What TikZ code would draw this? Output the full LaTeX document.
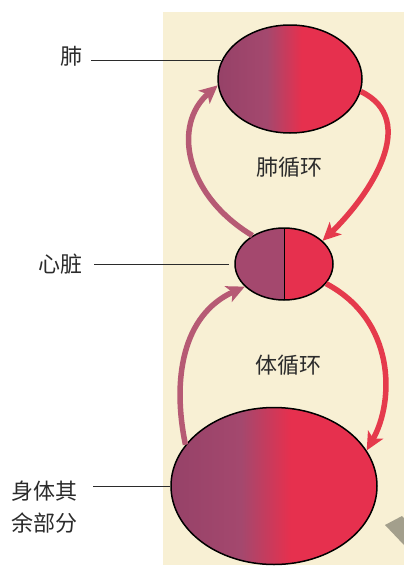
\documentclass[tikz,border=0pt]{standalone}
\usepackage{fontspec}
\newfontfamily\cjk{Noto Sans CJK SC}
\usetikzlibrary{shapes.geometric,arrows.meta}
\definecolor{cream}{HTML}{F8F0D4}
\definecolor{mauve}{HTML}{A4486E}
\definecolor{mauvedk}{HTML}{964268}
\definecolor{bred}{HTML}{E6304E}
\definecolor{amauve}{HTML}{B65A74}
\definecolor{ared}{HTML}{E53A4C}
\definecolor{diam}{HTML}{A39F8C}
\definecolor{ink}{HTML}{2B2B2B}
\pgfdeclarehorizontalshading{organshade}{100bp}{color(0bp)=(mauvedk); color(25bp)=(mauvedk); color(42bp)=(mauve); color(54bp)=(bred); color(75bp)=(bred); color(100bp)=(bred)}
\begin{document}
\begin{tikzpicture}[x=1pt,y=-1pt,
  organnode/.style={ellipse, draw=black, line width=1.5pt, shading=organshade, inner sep=0pt},
  flow/.style={line width=5.5pt, -{Stealth[length=18pt,width=17pt,inset=4.5pt]}},
  lbl/.style={font=\cjk\fontsize{22}{32}\selectfont, text=ink, inner sep=0pt},
  leader/.style={draw=ink, line width=0.8pt}]
\useasboundingbox (0,0) rectangle (404,570);
\fill[white] (0,0) rectangle (404,570);
\fill[cream] (163,12) rectangle (404,565);
\fill[diam] (385,525) -- (402,516) -- (404,518) -- (404,545) -- cycle;

\node[organnode, minimum width=144pt, minimum height=108pt] (lung) at (290,79) {};
\node[organnode, minimum width=206pt, minimum height=157pt] (body) at (274,486) {};
\node[ellipse, draw=black, line width=1.5pt, inner sep=0pt, minimum width=98pt, minimum height=72pt,
  path picture={
    \fill[mauve] (path picture bounding box.south west) rectangle (path picture bounding box.north);
    \fill[bred] (path picture bounding box.south) rectangle (path picture bounding box.north east);
    \draw[line width=0.9pt] (path picture bounding box.south) -- (path picture bounding box.north);
  }] (heart) at (284,264) {};

\draw[flow, ared] (lung.-10) .. controls (420,120) and (370,195) .. (heart.31);
\draw[flow, amauve] (heart.138) .. controls (185,195) and (172,125) .. (lung.185);
\draw[flow, ared] (heart.-25) .. controls (395,320) and (395,400) .. (body.21);
\draw[flow, amauve] (body.155) .. controls (172,380) and (182,315) .. (heart.210);

\node[lbl] (lunglabel) at (71,56) {肺};
\node[lbl] (heartlabel) at (60,264) {心脏};
\node[lbl, align=left] (bodylabel) at (45,507) {身体其\\余部分};
\node[lbl] (pulm) at (289,167) {肺循环};
\node[lbl] (sys) at (288,365) {体循环};

\draw[leader, shorten <=9pt] (lunglabel.east |- lung.165) -- (lung.165);
\draw[leader, shorten <=12pt, shorten >=5pt] (heartlabel.east |- heart.west) -- (heart.west);
\draw[leader, shorten <=15pt] (bodylabel.east |- body.west) -- (body.west);
\end{tikzpicture}
\end{document}
